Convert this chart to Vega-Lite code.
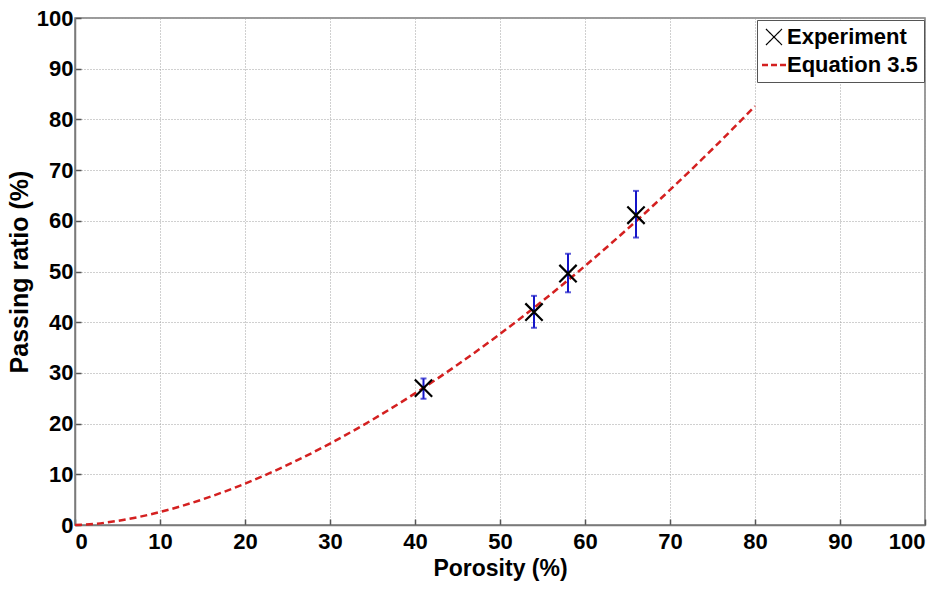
{
  "$schema": "https://vega.github.io/schema/vega-lite/v6.json",
  "width": 850,
  "height": 507,
  "autosize": {"type": "none"},
  "padding": {"left": 75, "top": 18, "right": 22, "bottom": 65},
  "background": "white",
  "config": {
    "view": {"stroke": "#7a7a7a", "strokeWidth": 1.5},
    "axis": {
      "labelFont": "Liberation Sans",
      "labelFontWeight": "bold",
      "labelFontSize": 22,
      "labelColor": "black",
      "titleFont": "Liberation Sans",
      "titleFontWeight": "bold",
      "titleColor": "black",
      "gridColor": "#a0a0a0",
      "gridDash": [1, 2],
      "gridWidth": 1,
      "domainColor": "#7a7a7a",
      "domainWidth": 1.5,
      "tickColor": "#555555",
      "tickSize": -6,
      "tickWidth": 1.5
    }
  },
  "datasets": {
    "exp": [
      {"x": 41, "y": 27, "lo": 24.9, "hi": 28.9},
      {"x": 54, "y": 42, "lo": 38.9, "hi": 45.2},
      {"x": 58, "y": 49.6, "lo": 45.9, "hi": 53.5},
      {"x": 66, "y": 61.1, "lo": 56.7, "hi": 65.9}
    ],
    "eq": [
      {"x": 0, "y": 0},
      {"x": 2.5, "y": 0.25},
      {"x": 5, "y": 0.81},
      {"x": 7.5, "y": 1.59},
      {"x": 10, "y": 2.56},
      {"x": 15, "y": 5.05},
      {"x": 20, "y": 8.16},
      {"x": 25, "y": 11.84},
      {"x": 30, "y": 16.06},
      {"x": 35, "y": 20.77},
      {"x": 40, "y": 25.96},
      {"x": 45, "y": 31.6},
      {"x": 50, "y": 37.68},
      {"x": 55, "y": 44.18},
      {"x": 60, "y": 51.09},
      {"x": 65, "y": 58.4},
      {"x": 70, "y": 66.09},
      {"x": 75, "y": 74.16},
      {"x": 80, "y": 82.6}
    ]
  },
  "layer": [
    {
      "data": {"name": "eq"},
      "mark": {"type": "line", "strokeDash": [7, 4], "strokeWidth": 2.5, "interpolate": "monotone"},
      "encoding": {
        "x": {
          "field": "x", "type": "quantitative",
          "scale": {"domain": [0, 100], "nice": false},
          "title": "Porosity (%)",
          "axis": {"values": [0, 10, 20, 30, 40, 50, 60, 70, 80, 90, 100], "labelPadding": 12, "titlePadding": 5, "titleFontSize": 23}
        },
        "y": {
          "field": "y", "type": "quantitative",
          "scale": {"domain": [0, 100], "nice": false},
          "title": "Passing ratio (%)",
          "axis": {"values": [0, 10, 20, 30, 40, 50, 60, 70, 80, 90, 100], "labelPadding": 8, "titlePadding": 4, "titleFontSize": 25}
        },
        "color": {
          "datum": "Equation 3.5",
          "type": "nominal",
          "scale": {"domain": ["Experiment", "Equation 3.5"], "range": ["black", "#d42020"]},
          "legend": {
            "title": null,
            "orient": "none",
            "legendX": 682,
            "legendY": 2,
            "strokeColor": "#555555",
            "fillColor": "white",
            "padding": 6,
            "labelFont": "Liberation Sans",
            "labelFontWeight": "bold",
            "labelFontSize": 22,
            "labelColor": "black",
            "labelOffset": 2,
            "rowPadding": 6,
            "encode": {
              "symbols": {
                "update": {
                  "shape": {"signal": "datum.value === 'Experiment' ? 'M-1,-1L1,1M-1,1L1,-1' : 'stroke'"},
                  "stroke": {"signal": "datum.value === 'Experiment' ? '#8a8a8a' : '#d42020'"},
                  "strokeDash": {"signal": "datum.value === 'Experiment' ? [1, 0] : [6, 3]"},
                  "strokeWidth": {"signal": "datum.value === 'Experiment' ? 1.2 : 2.5"},
                  "size": {"signal": "datum.value === 'Experiment' ? 256 : 576"},
                  "fill": {"value": "transparent"},
                  "opacity": {"value": 1}
                }
              }
            }
          }
        }
      }
    },
    {
      "data": {"name": "exp"},
      "mark": {"type": "errorbar", "color": "#1515c8", "thickness": 2, "ticks": {"size": 6, "color": "#1515c8", "thickness": 2}},
      "encoding": {
        "x": {"field": "x", "type": "quantitative", "title": "Porosity (%)"},
        "y": {"field": "lo", "type": "quantitative", "title": "Passing ratio (%)"},
        "y2": {"field": "hi"}
      }
    },
    {
      "data": {"name": "exp"},
      "mark": {"type": "point", "shape": "M-1,-1L1,1M-1,1L1,-1", "filled": false, "size": 300, "strokeWidth": 2.2, "opacity": 1},
      "encoding": {
        "x": {"field": "x", "type": "quantitative", "title": "Porosity (%)"},
        "y": {"field": "y", "type": "quantitative", "title": "Passing ratio (%)"},
        "color": {"datum": "Experiment", "type": "nominal"}
      }
    }
  ]
}
